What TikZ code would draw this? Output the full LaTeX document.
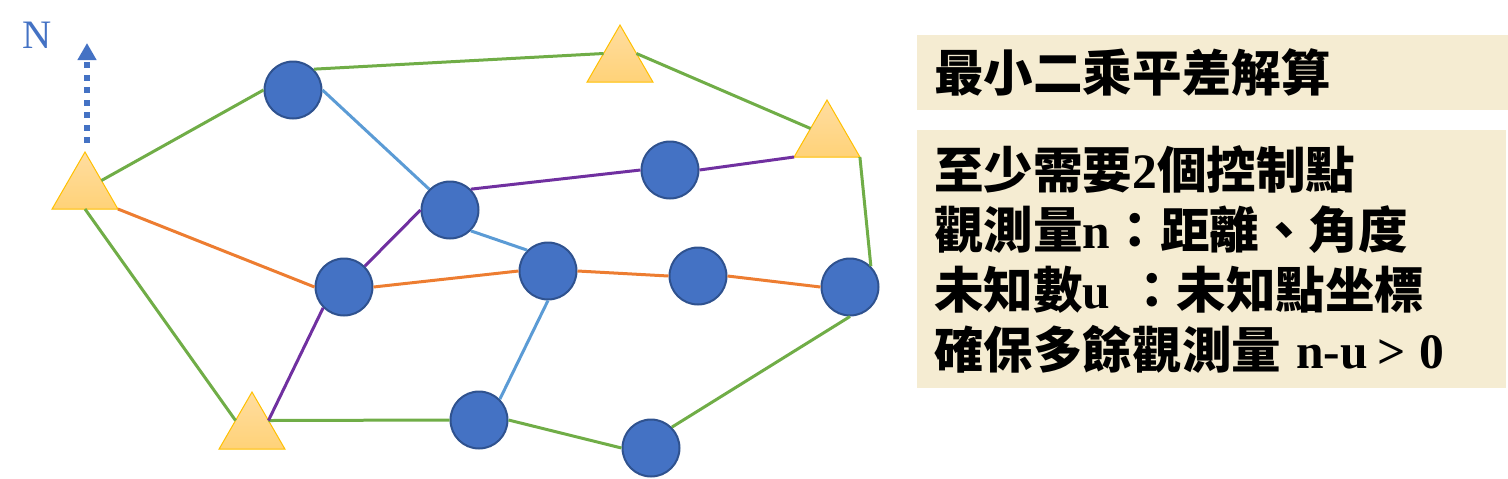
\documentclass[tikz,border=0pt]{standalone}
\usepackage{fontspec}
\setmainfont{Liberation Serif}
\newfontfamily\cjk{Noto Sans CJK TC}
\usetikzlibrary{arrows.meta,shapes.geometric}
\definecolor{ptblue}{HTML}{4472C4}
\definecolor{ptedge}{HTML}{2F528F}
\definecolor{netgreen}{HTML}{70AD47}
\definecolor{netorange}{HTML}{ED7D31}
\definecolor{netblue}{HTML}{5B9BD5}
\definecolor{netpurple}{HTML}{7030A0}
\definecolor{ctrledge}{HTML}{FFC000}
\definecolor{ctrltop}{HTML}{FFDDA0}
\definecolor{ctrlbot}{HTML}{FFD278}
\definecolor{boxtan}{HTML}{F5ECD2}
\newcommand{\zh}[1]{{\cjk\bfseries #1}}
\tikzset{
  unknownpt/.style={
    circle, draw=ptedge, fill=ptblue, line width=0.04cm,
    minimum size=1.14cm, inner sep=0pt
  },
  ctrlpt/.style={
    regular polygon, regular polygon sides=3, draw=ctrledge, line width=0.02cm,
    top color=ctrltop, bottom color=ctrlbot,
    minimum size=1.52cm, inner sep=0pt, outer sep=0pt
  },
  netline/.style={
    line width=0.06cm, color=#1
  },
  netline/.default=netgreen,
  notebox/.style={
    anchor=north west, fill=boxtan, inner sep=0pt,
    font=\fontsize{28.2}{34.1}\selectfont\bfseries, align=left, text=black
  },
}
\begin{document}
\begin{tikzpicture}[x=0.02cm,y=-0.02cm]
  \useasboundingbox (0,0) rectangle (1508,478);

  % Control points
  \node[ctrlpt] (ctrlw) at (85,190) {};
  \node[ctrlpt] (ctrln) at (620,63) {};
  \node[ctrlpt] (ctrle) at (827,138) {};
  \node[ctrlpt] (ctrls) at (252,430) {};

  % Unknown points
  \node[unknownpt] (pta) at (293,90) {};
  \node[unknownpt] (ptb) at (450,210) {};
  \node[unknownpt] (ptc) at (670,170) {};
  \node[unknownpt] (ptd) at (344,287) {};
  \node[unknownpt] (pte) at (548,271) {};
  \node[unknownpt] (ptf) at (698,276) {};
  \node[unknownpt] (ptg) at (850,287) {};
  \node[unknownpt] (pth) at (479,420) {};
  \node[unknownpt] (pti) at (651,448) {};

  % Outer traverse
  \draw[netline] (ctrlw.side 3) -- (pta.180);
  \draw[netline] (pta.45) -- (ctrln.side 1);
  \draw[netline] (ctrln.side 3) -- (ctrle.side 1);
  \draw[netline] (ctrle.corner 3) -- (ptg.45);
  \draw[netline] (ctrlw.side 2) -- (ctrls.side 1);
  \draw[netline] (ctrls.side 3) -- (pth.180);
  \draw[netline] (pth.0) -- (pti.180);
  \draw[netline] (pti.45) -- (ptg.-90);

  % Inner lines
  \draw[netline=netblue] (pta.0) -- (ptb.135);
  \draw[netline=netblue] (ptb.-45) -- (pte.135);
  \draw[netline=netblue] (pte.-90) -- (pth.45);
  \draw[netline=netpurple] (ctrls.side 3) -- (ptd.-135);
  \draw[netline=netpurple] (ptd.45) -- (ptb.180);
  \draw[netline=netpurple] (ptb.45) -- (ptc.180);
  \draw[netline=netpurple] (ptc.0) -- (ctrle.corner 2);
  \draw[netline=netorange] (ctrlw.corner 3) -- (ptd.180);
  \draw[netline=netorange] (ptd.0) -- (pte.180);
  \draw[netline=netorange] (pte.0) -- (ptf.180);
  \draw[netline=netorange] (ptf.0) -- (ptg.180);

  % North arrow
  \coordinate (northtail) at (87,143);
  \coordinate (northtip) at (87,43);
  \node[font=\fontsize{23}{23}\selectfont, color=ptblue] (northlabel) at (37,35) {N};
  \draw[-{Triangle[length=0.34cm,width=0.36cm]}, color=ptblue, line width=0.12cm,
    dash pattern=on 3.4pt off 3.7pt] (northtail) -- (northtip);

  % Notes
  \node[notebox, minimum height=1.5cm, text width=11.82cm] (titlebox) at (917,35)
    {\hspace*{0.34cm}\zh{最小二乘平差解算}};
  \node[notebox, minimum height=5.16cm, text width=11.78cm] (notesbox) at (917,130)
    {\hspace*{0.34cm}\zh{至少需要}2\zh{個控制點}\\
     \hspace*{0.34cm}\zh{觀測量}n\zh{：距離、角度}\\
     \hspace*{0.34cm}\zh{未知數}u \zh{：未知點坐標}\\
     \hspace*{0.34cm}\zh{確保多餘觀測量}\hspace{0.30cm}n-u\hspace{0.20cm}>\hspace{0.28cm}0};
\end{tikzpicture}
\end{document}
